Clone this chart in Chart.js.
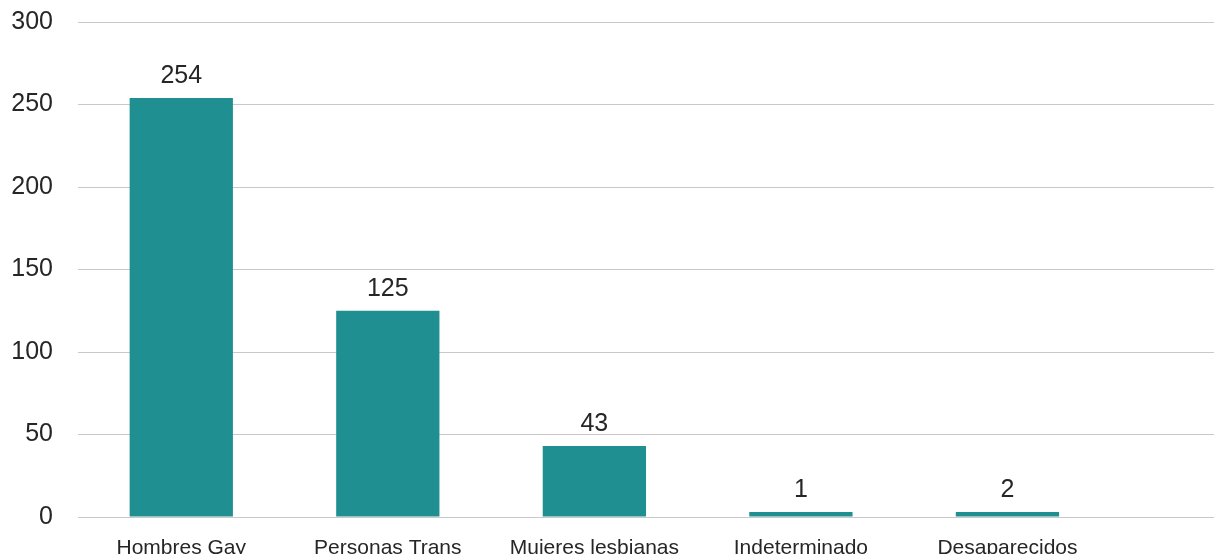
<!DOCTYPE html>
<html>
<head>
<meta charset="utf-8">
<script src="https://cdn.jsdelivr.net/npm/chart.js@4/dist/chart.umd.min.js"></script>
<style>
  html, body { margin: 0; padding: 0; background: #fff; overflow: hidden; }
  #wrap { width: 1214px; height: 554px; }
</style>
</head>
<body>
<div id="wrap"><canvas id="chart"></canvas></div>
<script>
const categories = ["Hombres Gay", "Personas Trans", "Mujeres lesbianas", "Indeterminado", "Desaparecidos"];
const counts = [254, 125, 43, 1, 2];
const yTicks = [0, 50, 100, 150, 200, 250, 300];

const BAR_COLOR = "#1f8f91";
const TEXT = "#262626";
const FONT = "'Liberation Sans', Arial, sans-serif";

// value labels above each bar
const valueLabels = {
  id: "valueLabels",
  afterDatasetsDraw(chart) {
    const ctx = chart.ctx;
    const meta = chart.getDatasetMeta(0);
    ctx.save();
    ctx.font = `25px ${FONT}`;
    ctx.fillStyle = TEXT;
    ctx.textAlign = "center";
    ctx.textBaseline = "middle";
    meta.data.forEach((bar, i) => {
      ctx.fillText(String(counts[i]), bar.x, bar.y - 22);
    });
    ctx.restore();
  }
};

new Chart(document.getElementById("chart"), {
  type: "bar",
  data: {
    datasets: [{
      data: counts.map((v, i) => ({ x: i, y: v })),
      backgroundColor: BAR_COLOR,
      borderWidth: 0,
      barPercentage: 0.5,
      categoryPercentage: 1,
      minBarLength: 5
    }]
  },
  options: {
    responsive: true,
    maintainAspectRatio: false,
    animation: false,
    layout: { padding: { left: 10, right: 0, top: 22, bottom: 0 } },
    plugins: { legend: { display: false }, tooltip: { enabled: false } },
    scales: {
      x: {
        type: "linear",
        min: -0.5,
        max: 5,
        offset: false,
        afterBuildTicks: (axis) => { axis.ticks = categories.map((_, i) => ({ value: i })); },
        afterFit: (axis) => { axis.height = 37; },
        grid: { display: false, drawTicks: false, offset: false },
        border: { display: false },
        ticks: {
          autoSkip: false,
          maxRotation: 0,
          padding: 21,
          color: TEXT,
          font: { family: FONT, size: 21, lineHeight: 1 },
          callback: (v) => categories[v] ?? ""
        }
      },
      y: {
        min: 0,
        max: 300,
        afterBuildTicks: (axis) => { axis.ticks = yTicks.map((v) => ({ value: v })); },
        afterFit: (axis) => { axis.width = 68; axis.paddingTop = 0; axis.paddingBottom = 0; },
        grid: { color: "#c9c9c9", lineWidth: 1, drawTicks: false },
        border: { display: false },
        ticks: {
          padding: 25,
          color: TEXT,
          font: { family: FONT, size: 25 }
        }
      }
    }
  },
  plugins: [valueLabels]
});
</script>
</body>
</html>
